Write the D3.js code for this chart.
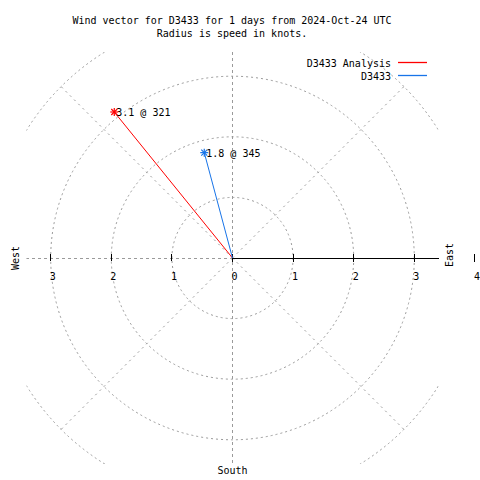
<!DOCTYPE html>
<html>
<head>
<meta charset="utf-8">
<script src="https://cdn.jsdelivr.net/npm/d3@7"></script>
<style>
html,body{margin:0;padding:0;background:#fff;}
svg{display:block;}
text{font-family:"DejaVu Sans Mono","Liberation Mono",monospace;font-size:10px;fill:#000;}
</style>
</head>
<body>
<svg id="chart" width="480" height="480"></svg>
<script>
// ---- data ----
const titleLines = ["Wind vector for D3433 for 1 days from 2024-Oct-24 UTC", "Radius is speed in knots."];
const seriesNames = ["D3433 Analysis", "D3433"];
const speeds = [3.1, 1.8];          // knots
const directions = [321, 345];      // degrees
const seriesColors = ["#ff0000", "#1874e8"];
const ringValues = [1, 2, 3, 4];
const spokeAngles = [45, 135, 225, 315];
const eastTicks = [0, 1, 2, 3, 4];
const westTicks = [1, 2, 3];
const compassLabels = ["West", "East", "South"];
const maxRadius = 4;
const boxRadius = 3.4;

// ---- layout ----
const cx = 232.5, cy = 258;
const r = d3.scaleLinear().domain([0, maxRadius]).range([0, 242.4]);
const svg = d3.select("#chart");
const grid = "#9a9a9a";

svg.append("defs").append("clipPath").attr("id", "boxc")
  .append("rect")
  .attr("x", -r(boxRadius)).attr("y", -r(boxRadius))
  .attr("width", 2 * r(boxRadius)).attr("height", 2 * r(boxRadius));

const g = svg.append("g").attr("transform", `translate(${cx},${cy})`);
const gridG = g.append("g").attr("clip-path", "url(#boxc)");

// rings
gridG.selectAll("circle.ring").data(ringValues).enter().append("circle")
  .attr("class", "ring")
  .attr("r", d => r(d))
  .attr("fill", "none").attr("stroke", grid).attr("stroke-width", 1)
  .attr("stroke-dasharray", "2,3");

// diagonal spokes
gridG.selectAll("line.spoke").data(spokeAngles).enter().append("line")
  .attr("x1", 0).attr("y1", 0)
  .attr("x2", d => r(maxRadius) * Math.sin(d * Math.PI / 180))
  .attr("y2", d => -r(maxRadius) * Math.cos(d * Math.PI / 180))
  .attr("stroke", grid).attr("stroke-dasharray", "2,4");

// vertical and west axes (dashed)
gridG.append("line").attr("x1", 0).attr("x2", 0)
  .attr("y1", -r(boxRadius)).attr("y2", r(boxRadius))
  .attr("stroke", grid).attr("stroke-dasharray", "3,3").attr("shape-rendering", "crispEdges");
gridG.append("line").attr("x1", -r(boxRadius)).attr("x2", 0)
  .attr("y1", 0).attr("y2", 0)
  .attr("stroke", grid).attr("stroke-dasharray", "3,3").attr("shape-rendering", "crispEdges");

// east solid axis
g.append("line").attr("x1", 0).attr("x2", r(boxRadius))
  .attr("y1", 0).attr("y2", 0)
  .attr("stroke", "#000").attr("shape-rendering", "crispEdges");

// ticks
g.selectAll("line.etick").data(eastTicks).enter().append("line")
  .attr("x1", d => r(d)).attr("x2", d => r(d))
  .attr("y1", -4).attr("y2", 4)
  .attr("stroke", "#000").attr("shape-rendering", "crispEdges");
g.selectAll("line.wtick").data(westTicks).enter().append("line")
  .attr("x1", d => -r(d)).attr("x2", d => -r(d))
  .attr("y1", -4).attr("y2", 3)
  .attr("stroke", "#000").attr("shape-rendering", "crispEdges");

g.selectAll("text.elab").data(eastTicks).enter().append("text")
  .attr("x", d => r(d) + 2).attr("y", 22)
  .attr("text-anchor", "middle").text(d => d);
g.selectAll("text.wlab").data(westTicks).enter().append("text")
  .attr("x", d => -r(d) + 2).attr("y", 22)
  .attr("text-anchor", "middle").text(d => d);

// vectors
const pts = speeds.map((s, i) => ({
  s, dir: directions[i], color: seriesColors[i],
  x: r(s) * Math.sin(directions[i] * Math.PI / 180),
  y: -r(s) * Math.cos(directions[i] * Math.PI / 180)
}));
g.selectAll("line.vec").data(pts).enter().append("line")
  .attr("x1", 0).attr("y1", 0)
  .attr("x2", d => d.x).attr("y2", d => d.y)
  .attr("stroke", d => d.color).attr("stroke-width", 1);
// asterisk markers
const star = g.selectAll("g.star").data(pts).enter().append("g")
  .attr("transform", d => `translate(${d.x},${d.y})`);
[[-4,0,4,0],[0,-4,0,4],[-3,-3,3,3],[-3,3,3,-3]].forEach(s => {
  star.append("line").attr("x1", s[0]).attr("y1", s[1]).attr("x2", s[2]).attr("y2", s[3])
    .attr("stroke", d => d.color).attr("stroke-width", 1.2);
});
g.selectAll("text.vlab").data(pts).enter().append("text")
  .attr("x", d => d.x + 2).attr("y", d => d.y + 4)
  .text(d => `${d.s.toFixed(1)} @ ${d.dir}`);

// compass labels
svg.append("text").attr("transform", `translate(19,${cy}) rotate(-90)`)
  .attr("text-anchor", "middle").text(compassLabels[0]);
svg.append("text").attr("transform", `translate(453,${cy - 3}) rotate(-90)`)
  .attr("text-anchor", "middle").text(compassLabels[1]);
svg.append("text").attr("x", cx).attr("y", 474)
  .attr("text-anchor", "middle").text(compassLabels[2]);

// title
svg.selectAll("text.title").data(titleLines).enter().append("text")
  .attr("x", 232).attr("y", (d, i) => 24 + i * 13)
  .attr("text-anchor", "middle").text(d => d);

// legend
const leg = svg.selectAll("g.leg").data(seriesNames).enter().append("g")
  .attr("transform", (d, i) => `translate(0,${67 + i * 13})`);
leg.append("text").attr("x", 391).attr("y", 0).attr("text-anchor", "end").text(d => d);
leg.append("line").attr("x1", 398).attr("x2", 427).attr("y1", -4.5).attr("y2", -4.5)
  .attr("stroke", (d, i) => seriesColors[i]).attr("stroke-width", 1.3);
</script>
</body>
</html>
